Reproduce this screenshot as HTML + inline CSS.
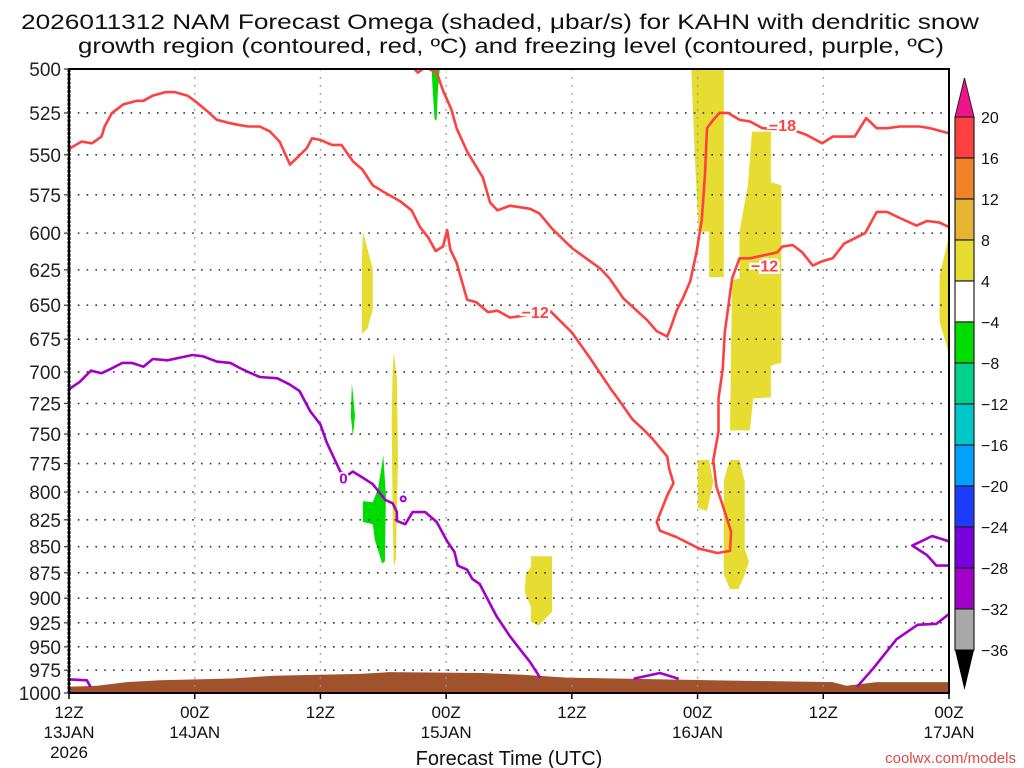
<!DOCTYPE html>
<html><head><meta charset="utf-8">
<style>
html,body{margin:0;padding:0;background:#fff;}
svg{display:block;font-family:"Liberation Sans","DejaVu Sans",sans-serif;}
</style></head>
<body>
<svg id="chart" width="1024" height="768" viewBox="0 0 1024 768">
<g>
<text x="500" y="29" text-anchor="middle" font-size="21" textLength="958" lengthAdjust="spacingAndGlyphs" fill="#111">2026011312 NAM Forecast Omega (shaded, μbar/s) for KAHN with dendritic snow</text>
<text x="511" y="53" text-anchor="middle" font-size="21" textLength="866" lengthAdjust="spacingAndGlyphs" fill="#111">growth region (contoured, red, ºC) and freezing level (contoured, purple, ºC)</text>
</g>
<g id="shades"></g>
<g id="terrain"></g>
<g id="grid"></g>
<g id="contours"></g>
<g id="axes"></g>
<g id="cbar"></g>
<text x="509" y="765" text-anchor="middle" font-size="20" fill="#111">Forecast Time (UTC)</text>
<text x="1016" y="763" text-anchor="end" font-size="15" fill="#e04848">coolwx.com/models</text>
</svg>
<script>
// ---- data ----
const pressureTicks = [500,525,550,575,600,625,650,675,700,725,750,775,800,825,850,875,900,925,950,975,1000];
const timeTickHours = [0,12,24,36,48,60,72,84];
const timeTickLine1 = ["12Z","00Z","12Z","00Z","12Z","00Z","12Z","00Z"];
const timeTickLine2 = ["13JAN","14JAN","","15JAN","","16JAN","","17JAN"];
const timeTickLine3 = ["2026","","","","","","",""];
const cbarLabels = ["20","16","12","8","4","-4","-8","-12","-16","-20","-24","-28","-32","-36"];
const cbarColors = ["#ff4040","#f08228","#e6b432","#e6dc32","#ffffff","#00dc00","#00d28c","#00c8c8","#00a0ff","#1e3cff","#7800dc","#a000c8","#a8a8a8"];

const redMinus12 = [[0.1,546],[1.2,542],[2.2,543],[3.1,539],[3.4,533],[4.1,525],[5.2,520],[6.5,518],[7.1,518],[8.0,515],[9.2,513],[10.1,513],[11.3,515],[12.0,518],[13.2,524],[14.1,529],[15.4,531],[16.1,532],[17.1,533],[18.2,533],[19.2,536],[20.1,542],[21.1,556],[21.9,551],[22.7,546],[23.2,540],[24.0,541],[25.1,544],[26.0,544],[27.1,554],[28.0,559],[29.0,569],[30.0,573],[31.6,579],[32.7,585],[33.5,596],[34.3,603],[35.0,612],[35.7,609],[36.1,598],[36.4,611],[37.0,620],[38.0,646],[38.9,648],[40.0,655],[40.9,654],[42.1,659],[43.0,658],[45.9,654],[48.0,670],[49.7,689],[51.6,712],[52.3,720],[53.8,738],[54.8,746],[55.7,754],[57.1,769],[57.3,780],[57.7,792],[57.1,803],[56.1,827],[56.4,835],[58.0,841],[60.2,852],[61.9,856],[63.1,854],[63.2,836],[62.8,824],[62.3,809],[61.8,795],[61.5,772],[62.0,748],[62.0,721],[62.4,698],[62.6,670],[63.3,631],[64.0,617],[65.0,617],[67.6,613],[68.1,609],[69.1,608],[70.0,613],[71.0,622],[71.9,619],[72.9,617],[74.0,607],[76.0,600],[77.1,586],[78.1,586],[79.3,590],[80.9,595],[81.9,592],[83.1,593],[84,596]];
const redMinus18 = [[32.8,499],[33.3,502],[34.0,499],[35.1,502],[35.7,512],[36.5,523],[37.0,534],[38.0,548],[39.5,564],[40.2,580],[40.9,585],[42.1,582],[44.0,584],[44.9,587],[46.1,597],[48.0,610],[50.7,624],[51.6,631],[52.9,645],[54.2,654],[55.2,661],[56.1,669],[57.1,673],[57.5,665],[58.0,654],[58.6,645],[59.3,633],[59.9,613],[60.4,591],[60.7,563],[60.9,534],[61.5,529],[62.1,525],[62.9,525],[64.0,529],[65.0,530],[66.2,534],[69.1,535],[70.4,538],[71.9,543],[72.9,539],[75.0,539],[76.1,528],[77.1,534],[78.1,534],[79.3,533],[81.2,533],[82.2,534],[84,537]];
const redLabels = [[44.5,655,"-12"],[66.4,622,"-12"],[68.1,532,"-18"]];

const frzMain = [[0.1,713],[1.0,708],[2.1,699],[3.1,701],[3.9,698],[5.1,693],[6.0,693],[7.1,696],[8.0,690],[9.4,691],[10.6,689],[11.8,687],[12.8,688],[14.1,692],[15.4,693],[16.3,697],[17.1,700],[18.2,704],[19.9,705],[21.1,710],[22.0,715],[23.0,731],[24.0,742],[24.6,757],[25.9,782],[26.6,785],[27.1,782],[28.0,787],[29.0,793],[30.2,807],[30.9,810],[31.3,818],[31.3,826],[32.1,829],[32.8,818],[34.0,818],[35.1,827],[36.1,845],[36.8,855],[37.1,868],[38.0,872],[38.5,881],[39.2,886],[40.8,918],[42.1,939],[43.0,952],[44.0,966],[44.9,982]];
const frzLeft = [[0.1,985],[1.7,986],[2.0,992]];
const frzMid = [[54.0,984],[56.4,978],[58.1,984]];
const frzRight = [[75.3,992],[76.7,974],[79.0,942],[81.0,927],[82.8,926],[84,916]];
const frzLoop = [[84,845],[82.4,840],[80.5,849],[81.9,858],[82.8,868],[84,868]];
const frzDot = [31.9,806];
const frzLabel = [26.2,787,"0"];

const terrainTop = [[0,993],[2.7,992],[5.5,988],[8.7,986],[15.6,984],[19.5,981],[27.8,979],[30.6,977],[39.5,978],[43.3,980],[47.5,983],[61.2,986],[72.9,988],[74.2,992],[77.1,988],[84,988]];

const yellowAreas = [
 [[28.05,599],[28.5,611],[29.0,624],[29.0,653],[28.5,667],[27.96,671],[27.96,617]],
 [[31.0,685],[31.3,705],[31.4,772],[31.2,862],[31.0,869],[30.9,824],[30.8,738],[30.9,698]],
 [[59.4,499],[62.5,499],[62.5,630],[61.1,630],[61.1,599],[60.1,599],[59.7,546]],
 [[65.2,536],[67.0,536],[67.0,567],[68.0,569],[68.0,693],[67.0,695],[67.0,720],[65.3,721],[65.0,747],[63.1,747],[63.3,632],[64.0,631],[64.0,599],[64.8,569]],
 [[84,602],[83.1,629],[83.1,662],[84,686]],
 [[60.0,772],[61.1,772],[61.5,791],[60.9,817],[60.0,814]],
 [[63.1,772],[64.0,772],[64.5,791],[64.5,852],[64.9,864],[64.5,877],[63.9,891],[63.1,891],[62.5,877],[62.5,791],[62.8,780]],
 [[44.1,859],[46.1,859],[46.1,914],[44.8,928],[44.1,924],[44.1,909],[43.5,894],[43.6,877],[44.1,869]]
];
const greenAreas = [
 [[34.6,499],[35.4,499],[35.2,513],[35.1,529],[34.9,529],[34.7,510]],
 [[27.0,709],[27.3,735],[27.1,752],[26.9,735]],
 [[30.0,768],[30.25,803],[30.15,864],[29.9,866],[29.2,844],[29.0,829],[28.05,827],[28.05,808],[29.0,809],[29.5,797],[29.8,780]]
];

// ---- axes ----
const X0=69, X1=949, Y0=69, Y1=693;
function xs(h){return X0+(X1-X0)*h/84;}
function ys(p){return Y0+(Y1-Y0)*Math.log(p/500)/Math.log(2);}
const NS="http://www.w3.org/2000/svg";
function mk(tag,attrs,parent){const e=document.createElementNS(NS,tag);for(const k in attrs)e.setAttribute(k,attrs[k]);parent.appendChild(e);return e;}
function pts(arr){return arr.map(d=>xs(d[0]).toFixed(1)+","+ys(d[1]).toFixed(1)).join(" ");}

const svg=document.getElementById("chart");
const defs=mk("defs",{},svg);
const cp=mk("clipPath",{id:"plotclip"},defs);
mk("rect",{x:X0,y:Y0,width:X1-X0,height:Y1-Y0},cp);

// shading
const shades=document.getElementById("shades");
shades.setAttribute("clip-path","url(#plotclip)");
yellowAreas.forEach((a,i)=>{const e=mk("polygon",{points:pts(a),fill:"#e6dc32"},shades);

});
greenAreas.forEach((a,i)=>{const e=mk("polygon",{points:pts(a),fill:"#00dc00"},shades);

});

// terrain
const terr=document.getElementById("terrain");
const tp=terrainTop.map(d=>[d[0],d[1]]);
const tpoly=pts(tp)+" "+xs(84)+","+Y1+" "+xs(0)+","+Y1;
const te=mk("polygon",{points:tpoly,fill:"#a0522d"},terr);



// grid
const grid=document.getElementById("grid");
pressureTicks.forEach(p=>{if(p===500||p===1000)return;
const l=mk("line",{x1:X0,x2:X1,y1:ys(p),y2:ys(p),stroke:"#333","stroke-width":1.6,"stroke-dasharray":"1.6 7.2"},grid);

});
timeTickHours.forEach(h=>{if(h===0||h===84)return;
const l=mk("line",{x1:xs(h),x2:xs(h),y1:Y0,y2:Y1,stroke:"#999","stroke-width":1.4,"stroke-dasharray":"1.6 6.4"},grid);

});
// dotted overlay on terrain
pressureTicks.forEach(p=>{if(p<975)return;});

// contours
const cont=document.getElementById("contours");
cont.setAttribute("clip-path","url(#plotclip)");
function line(arr,color,name,w){const e=mk("polyline",{points:pts(arr),fill:"none",stroke:color,"stroke-width":w||2.6,"stroke-linejoin":"round","stroke-linecap":"round"},cont);

return e;}
line(redMinus12,"#ff4040","dgz-contour-minus12");
line(redMinus18,"#ff4040","dgz-contour-minus18");
line(frzMain,"#a000c8","freezing-level-main");
line(frzLeft,"#a000c8","freezing-level-left");
line(frzMid,"#a000c8","freezing-level-mid");
line(frzRight,"#a000c8","freezing-level-right");
line(frzLoop,"#a000c8","freezing-level-loop");
const dot=mk("circle",{cx:xs(frzDot[0]),cy:ys(frzDot[1]),r:2.5,fill:"none",stroke:"#a000c8","stroke-width":2},cont);


redLabels.forEach(l=>{const t=mk("text",{x:xs(l[0]),y:ys(l[1])+6,"text-anchor":"middle","font-size":16,"font-weight":"bold",fill:"#ff4040",stroke:"#fff","stroke-width":5,"paint-order":"stroke"},cont);
t.textContent=l[2].replace("-","\u2212");

});
const fl=mk("text",{x:xs(frzLabel[0]),y:ys(frzLabel[1])+6,"text-anchor":"middle","font-size":15,"font-weight":"bold",fill:"#a000c8",stroke:"#fff","stroke-width":4,"paint-order":"stroke"},cont);
fl.textContent=frzLabel[2];



// axes
const ax=document.getElementById("axes");
const fr=mk("rect",{x:X0,y:Y0,width:X1-X0,height:Y1-Y0,fill:"none",stroke:"#000","stroke-width":2},ax);


const la=mk("line",{x1:X0,x2:X0,y1:Y0,y2:Y1,stroke:"#000","stroke-width":3,"stroke-dasharray":"3 1.2"},ax);


pressureTicks.forEach(p=>{
mk("line",{x1:X0-5,x2:X0,y1:ys(p),y2:ys(p),stroke:"#333","stroke-width":1.2},ax);
const t=mk("text",{x:X0-8,y:ys(p)+7,"text-anchor":"end","font-size":19,fill:"#222"},ax);
t.textContent=p;

});
timeTickHours.forEach((h,i)=>{
mk("line",{x1:xs(h),x2:xs(h),y1:Y1,y2:Y1+6,stroke:"#000","stroke-width":1.5},ax);
[timeTickLine1[i],timeTickLine2[i],timeTickLine3[i]].forEach((s,j)=>{if(!s)return;
const t=mk("text",{x:xs(h),y:Y1+25+j*20,"text-anchor":"middle","font-size":17,fill:"#111"},ax);
t.textContent=s;

});});

// colorbar
const cb=document.getElementById("cbar");
const CX0=955, CX1=974, CB0=117, CH=41;
const tri1=mk("polygon",{points:`${CX0},${CB0} ${CX1},${CB0} ${(CX0+CX1)/2},${CB0-39}`,fill:"#f0148c",stroke:"#222","stroke-width":1},cb);


cbarColors.forEach((c,i)=>{const r=mk("rect",{x:CX0,y:CB0+i*CH,width:CX1-CX0,height:CH,fill:c,stroke:"#222","stroke-width":1.2},cb);

});
const yb=CB0+cbarColors.length*CH;
const tri2=mk("polygon",{points:`${CX0},${yb} ${CX1},${yb} ${(CX0+CX1)/2},${yb+40}`,fill:"#000"},cb);


cbarLabels.forEach((s,i)=>{const t=mk("text",{x:CX1+7,y:CB0+i*CH+6,"font-size":16,fill:"#111"},cb);
t.textContent=s.replace("-","\u2212");

});
</script>
</body></html>
